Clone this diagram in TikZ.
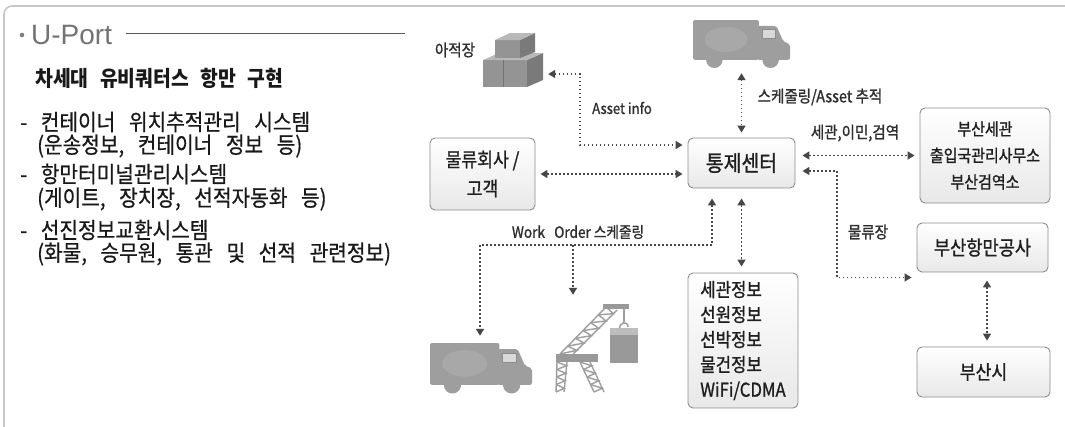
\documentclass[tikz,border=0pt]{standalone}
\usepackage{fontspec}
\setmainfont{Liberation Sans}
\newfontfamily\krtext[WordSpace=3.0, FakeStretch=0.9, FakeBold=0.6]{Noto Sans CJK KR}
\newfontfamily\krhead[WordSpace=2.6, FakeStretch=0.9]{Noto Sans CJK KR}
\newfontfamily\krbox[FakeStretch=0.88, FakeBold=1.1]{Noto Sans CJK KR}
\usetikzlibrary{arrows.meta,calc}

% lattice girder between two rails, with a zigzag web of #5 bays
\newcommand\craneLattice[5]{%
  \draw (#1) -- (#2) (#3) -- (#4);
  \pgfmathtruncatemacro\lastseg{#5-1}
  \foreach \k in {0,...,\lastseg}{
    \pgfmathsetmacro\fa{\k/#5}
    \pgfmathsetmacro\fb{(\k+0.5)/#5}
    \pgfmathsetmacro\fc{(\k+1)/#5}
    \draw ($(#1)!\fa!(#2)$) -- ($(#3)!\fb!(#4)$) -- ($(#1)!\fc!(#2)$);
  }
}

\tikzset{
  >={Triangle[length=7pt,width=8pt]},
  box/.style={draw=black!45, line width=0.9pt, rounded corners=5pt,
    top color=white, bottom color=black!9, text=black!88,
    inner sep=0pt, align=center, font=\krbox},
  link/.style={draw=black!72, line width=1.6pt,
    dash pattern=on 1.6pt off 2.4pt, shorten >=5pt, shorten <=5pt},
  lbl/.style={font=\krbox\fontsize{16.5}{18}\selectfont, text=black!82, inner sep=0pt},
  bullettext/.style={font=\krtext\fontsize{22.5}{24}\selectfont, text=black!90,
    inner sep=0pt, anchor=west},
  icon/.style={inner sep=0pt, draw=none},
  icn/.style={fill=black!38},
  truck/.pic={
    \fill[icn, rounded corners=2pt] (0,0) rectangle (68,41);
    \fill[icn, rounded corners=2pt] (66,6) -- (86,6) -- (93,22) -- (100,25)
      -- (100,41) -- (66,41) -- cycle;
    \fill[black!34] (34,20) ellipse (22pt and 13pt);
    \fill[black!15] (71,10) rectangle (85,19);
    \draw[black!45, line width=0.6pt] (71,10) rectangle (85,19);
    \fill[icn] (22,41) circle (8.5);
    \fill[icn] (80,41) circle (8.5);
  }
}

\begin{document}
\begin{tikzpicture}[x=1pt, y=-1pt]
\useasboundingbox (0,0) rectangle (1065,426);
\fill[white] (0,0) rectangle (1065,426);

% panel frame
\draw[black!22, line width=1.6pt, rounded corners=8pt] (4,6) rectangle (1085,445);

% ---------- left column ----------
\fill[black!50] (22,35) circle (2.3);
\node[inner sep=0pt, anchor=west, text=black!55,
  font=\fontsize{28}{30}\selectfont] (uport) at (31,35) {U-Port};
\coordinate (ruleend) at (405,33);
\draw[black!65, line width=0.9pt] ([xshift=14pt]uport.east |- ruleend) -- (ruleend);

\node[bullettext, font=\krhead\bfseries\fontsize{21.5}{24}\selectfont] (title) at (35,78)
  {차세대 유비쿼터스 항만 구현};
\node[bullettext] (l1a) at (20,122) {- 컨테이너 위치추적관리 시스템};
\node[bullettext] (l1b) at (37,146) {(운송정보, 컨테이너 정보 등)};
\node[bullettext] (l2a) at (20,174) {- 항만터미널관리시스템};
\node[bullettext] (l2b) at (37,199) {(게이트, 장치장, 선적자동화 등)};
\node[bullettext] (l3a) at (20,230) {- 선진정보교환시스템};
\node[bullettext] (l3b) at (37,254) {(화물, 승무원, 통관 및 선적 관련정보)};

% ---------- boxes ----------
\node[box, minimum width=107pt, minimum height=50pt,
  font=\krbox\fontsize{22}{24}\selectfont] (ctrl) at (741.5,163) {통제센터};
\node[box, minimum width=105pt, minimum height=72pt,
  font=\krbox\fontsize{19.5}{29}\selectfont] (logi) at (482.5,174) {물류회사 /\\고객};
\node[box, minimum width=130pt, minimum height=95pt,
  font=\krbox\fontsize{17}{26.5}\selectfont] (cust) at (985,155.5)
  {부산세관\\출입국관리사무소\\부산검역소};
\node[box, minimum width=131pt, minimum height=49pt,
  font=\krbox\fontsize{20}{22}\selectfont] (bpa) at (982.5,247.5) {부산항만공사};
\node[box, minimum width=133pt, minimum height=50pt,
  font=\krbox\fontsize{19.5}{22}\selectfont] (city) at (983.5,372) {부산시};
\node[box, minimum width=110pt, minimum height=135pt, align=left,
  font=\krbox\fontsize{19}{25}\selectfont] (info) at (743,340.5)
  {세관정보\\선원정보\\선박정보\\물건정보\\WiFi/CDMA};

% ---------- icons ----------
% stacked cartons of the storage yard
\node[icon, minimum width=60pt, minimum height=40pt] (yard) at (513,67) {};
\fill[black!42] (483,60) rectangle (527,87);
\fill[black!52] (527,60) -- (543,53) -- (543,80) -- (527,87) -- cycle;
\fill[black!28] (483,60) -- (499,53) -- (543,53) -- (527,60) -- cycle;
\draw[black!55, line width=0.5pt] (503,60) -- (503,87);
\fill[black!42] (495,40) rectangle (520,58);
\fill[black!52] (520,40) -- (535,33) -- (535,52) -- (520,58) -- cycle;
\fill[black!28] (495,40) -- (510,33) -- (535,33) -- (520,40) -- cycle;

% trucks
\node[icon, minimum width=97pt, minimum height=50pt] (ttruck) at (741.5,45) {};
\pic[scale=0.97] at (693,20) {truck};
\node[icon, minimum width=102pt, minimum height=50pt] (btruck) at (481,368) {};
\pic[scale=1.02] at (430,343) {truck};

% container crane
\node[icon, minimum width=83pt, minimum height=88pt] (crane) at (597,349) {};
\begin{scope}[draw=black!38, line width=1.4pt]
  \craneLattice{560,354}{606,307}{573,354}{617,310}{6}
  \craneLattice{557,362}{556,392}{567,362}{564,392}{4}
  \craneLattice{580,362}{594,392}{590,362}{604,392}{4}
  \draw[line width=1.5pt] (624,309) -- (624,322);
  \draw[line width=1.5pt] (620,330) .. controls (618,322) and (628,320) .. (628,327);
\end{scope}
\fill[black!40] (603,304) rectangle (629,309);
\fill[black!40] (556,354) rectangle (598,362);
\fill[black!26] (610,328) rectangle (638,335);
\fill[black!40] (610,335) rectangle (638,363);

% ---------- connectors ----------
\coordinate (aj) at (580,145);
\draw[link, <->] ([yshift=-7pt]yard.east) -| (aj) -- (aj -| ctrl.west);
\node[lbl, font=\krbox\fontsize{15}{17}\selectfont] (assetlbl) at (622,108) {Asset info};

\draw[link, <->] (logi.east) -- (logi.east -| ctrl.west);

\draw[link, <->, shorten <=3pt] (ttruck.south) -- (ctrl.north);
\node[lbl] (schedlbl) at (820,97) {스케줄링/Asset 추적};

\draw[link, <->, shorten <=7pt] (ctrl.east |- cust) -- (cust.west);
\node[lbl] (cimlbl) at (855,133) {세관,이민,검역};

\coordinate (lg) at (837,171);
\coordinate (bpain) at ([yshift=-5pt]bpa.south west);
\draw[link, <->, shorten <=7pt] (lg -| ctrl.east) -- (lg) |- (bpain);
\node[lbl] (logilbl) at (868,232) {물류장};

\draw[link, <->, shorten <=8pt, shorten >=6pt] (bpa.south -| 987,0) -- (city.north -| 987,0);

\draw[link, <->, shorten <=10pt, shorten >=6pt] (ctrl.south) -- (ctrl.south |- info.north);

\coordinate (wotop) at ([xshift=-29.5pt]ctrl.south);
\coordinate (woL) at (480,245);
\coordinate (woM) at (573,245);
\draw[link, <->, shorten <=10pt, shorten >=7pt] (wotop) |- (woL) -- (woL |- btruck.north);
\draw[link, ->, shorten <=0pt, shorten >=10pt] (woM) -- (woM |- crane.north);
\node[lbl, font=\krbox\fontsize{15.5}{17}\selectfont] (wolbl) at (578,232)
  {Work\hspace{0.6em}Order 스케줄링};

\node[lbl] (yardlbl) at (455,50) {아적장};
\end{tikzpicture}
\end{document}
